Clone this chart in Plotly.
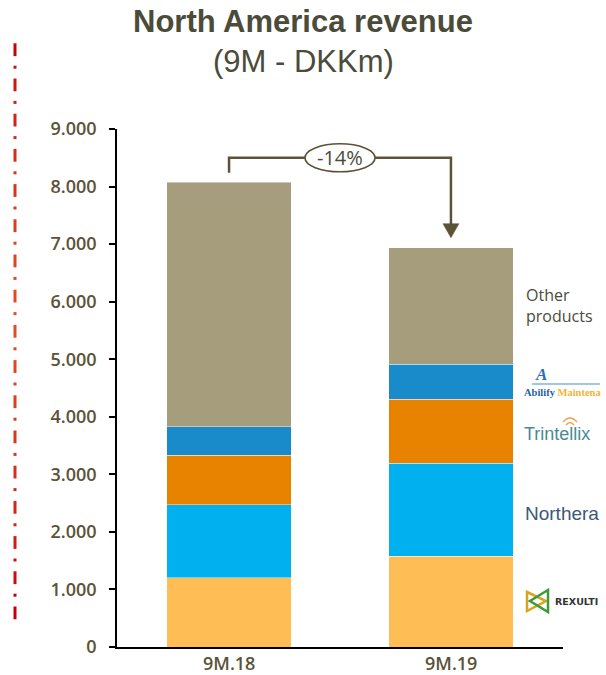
import plotly.graph_objects as go

# ---------------- data ----------------
periods = ["9M.18", "9M.19"]
rexulti = [1200, 1580]
northera = [1270, 1610]
trintellix = [860, 1115]
abilify = [500, 610]
other = [4245, 2025]

series_names = ["Rexulti", "Northera", "Trintellix", "Abilify Maintena", "Other products"]
series_values = [rexulti, northera, trintellix, abilify, other]
series_colors = ["#ffbe55", "#00b0ef", "#e88300", "#198bcb", "#a59d7c"]

y_ticks = list(range(0, 9001, 1000))

# ---------------- figure ----------------
W, H = 606, 675
ML, MR, MT, MB = 117, 43, 129, 28
PW, PH = W - ML - MR, H - MT - MB

def px_x(px):
    return (px - ML) / PW

def px_y(py):
    return (H - MB - py) / PH

fig = go.Figure()
for name, vals, col in zip(series_names, series_values, series_colors):
    fig.add_trace(go.Bar(
        x=periods, y=vals, name=name, width=0.56,
        marker=dict(color=col, line=dict(color="rgba(255,255,255,0.7)", width=0.6)),
        hoverinfo="x+y+name",
    ))

totals = [sum(v[i] for v in series_values) for i in range(len(periods))]
change = round((totals[1] / totals[0] - 1) * 100)

dark = "#5b5237"
txt = "#4b4b39"
shapes = []
annotations = []

# bracket with arrow
leg_gap = 165
y_br = max(totals) + 425
shapes.append(dict(type="path", xref="x", yref="y",
                   path=f"M 0,{totals[0] + leg_gap} L 0,{y_br} L 1,{y_br} L 1,{totals[1] + 410}",
                   line=dict(color=dark, width=2.5), layer="above"))
ah_w, ah_h = 0.036, 245
tip = totals[1] + 170
shapes.append(dict(type="path", xref="x", yref="y",
                   path=f"M {1 - ah_w},{tip + ah_h} L {1 + ah_w},{tip + ah_h} L 1,{tip} Z",
                   fillcolor=dark, line=dict(color=dark, width=0.5), layer="above"))
shapes.append(dict(type="circle", xref="x", yref="y",
                   x0=0.5 - 0.158, x1=0.5 + 0.158, y0=y_br - 243, y1=y_br + 243,
                   fillcolor="white", line=dict(color=dark, width=1.6), layer="above"))
annotations.append(dict(x=0.5, y=y_br, xref="x", yref="y", text=f"{change}%",
                        showarrow=False, font=dict(family="Open Sans", size=20, color=txt)))

# category labels under the bars
for p in periods:
    annotations.append(dict(x=p, y=px_y(663), xref="x", yref="paper", text=p, showarrow=False,
                            yanchor="middle",
                            font=dict(family="Open Sans", size=18, color=dark, weight=600)))

# right-hand labels at segment centres of the last bar
cum = 0
mids = []
for vals in series_values:
    mids.append(cum + vals[1] / 2)
    cum += vals[1]
lab_x = 1.33
annotations.append(dict(x=lab_x, y=mids[4], xref="x", yref="y", xanchor="left", yanchor="middle",
                        text="Other<br>products", align="left", showarrow=False,
                        font=dict(family="Open Sans", size=16, color=txt)))
annotations.append(dict(x=lab_x - 0.01, y=mids[3] - 190, xref="x", yref="y", xanchor="left", yanchor="middle",
                        text="<b><span style='color:#2a5fa8'>Abilify</span> <span style='color:#f2b43a'>Maintena</span></b>",
                        showarrow=False, font=dict(family="Liberation Serif", size=10.5)))
annotations.append(dict(x=lab_x + 0.04, y=mids[3] + 130, xref="x", yref="y", xanchor="left", yanchor="middle",
                        text="<b><i>A</i></b>", showarrow=False,
                        font=dict(family="Liberation Serif", size=17, color="#2a6cb8")))
annotations.append(dict(x=lab_x - 0.01, y=mids[2] - 40, xref="x", yref="y", xanchor="left", yanchor="middle",
                        text="Trintellix", showarrow=False,
                        font=dict(family="Liberation Sans", size=18, color="#4a8a95")))
annotations.append(dict(x=lab_x - 0.005, y=mids[1] - 60, xref="x", yref="y", xanchor="left", yanchor="middle",
                        text="Northera", showarrow=False,
                        font=dict(family="Liberation Sans", size=19, color="#3b5878")))
annotations.append(dict(x=lab_x + 0.13, y=mids[0], xref="x", yref="y", xanchor="left", yanchor="middle",
                        text="<b>REXULTI</b>", showarrow=False,
                        font=dict(family="DejaVu Sans", size=9.5, color="#333333")))

# small logo decorations
shapes.append(dict(type="line", xref="paper", yref="paper", x0=px_x(532), x1=px_x(600),
                   y0=px_y(384), y1=px_y(384), line=dict(color="#7fb4e0", width=1.5)))
shapes.append(dict(type="path", xref="paper", yref="paper",
                   path=f"M {px_x(527)},{px_y(592)} L {px_x(546)},{px_y(601)} L {px_x(527)},{px_y(611)} Z",
                   line=dict(color="#d9a520", width=2.5)))
shapes.append(dict(type="path", xref="paper", yref="paper",
                   path=f"M {px_x(548)},{px_y(590)} L {px_x(530)},{px_y(601)} L {px_x(548)},{px_y(612)} Z",
                   line=dict(color="#3f9a3a", width=2.5)))
shapes.append(dict(type="path", xref="paper", yref="paper",
                   path=f"M {px_x(566)},{px_y(425)} Q {px_x(570)},{px_y(420)} {px_x(574)},{px_y(425)}",
                   line=dict(color="#f0a050", width=1.5)))
shapes.append(dict(type="path", xref="paper", yref="paper",
                   path=f"M {px_x(563)},{px_y(422)} Q {px_x(570)},{px_y(414)} {px_x(577)},{px_y(422)}",
                   line=dict(color="#f0a050", width=1.5)))

# red dash-dot vertical decoration (drawn piecewise to get the colour gradient)
def red_at(py):
    t = (py - 43) / (620 - 43)
    w = max(0.0, 1 - abs(t - 0.47) / 0.47) ** 0.6
    r0, g0, b0 = 0xc4, 0x00, 0x0c
    r1, g1, b1 = 0xe2, 0x4e, 0x26
    r = round(r0 + (r1 - r0) * w); g = round(g0 + (g1 - g0) * w); b = round(b0 + (b1 - b0) * w)
    return f"rgb({r},{g},{b})"

start, period = 43.3, 35.2
for k in range(17):
    d0 = start + k * period
    shapes.append(dict(type="line", xref="paper", yref="paper", x0=px_x(15), x1=px_x(15),
                       y0=px_y(d0), y1=px_y(d0 + 12.8), line=dict(color=red_at(d0), width=3)))
    if k < 16:
        p0 = d0 + 22.4
        shapes.append(dict(type="line", xref="paper", yref="paper", x0=px_x(15), x1=px_x(15),
                           y0=px_y(p0), y1=px_y(p0 + 3), line=dict(color=red_at(p0), width=3)))

# titles
annotations.append(dict(x=px_x(303), y=px_y(21.5), xref="paper", yref="paper", showarrow=False,
                        text="<b>North America revenue</b>", yanchor="middle",
                        font=dict(family="Liberation Sans", size=31, color=txt)))
annotations.append(dict(x=px_x(303), y=px_y(61), xref="paper", yref="paper", showarrow=False,
                        text="(9M - DKKm)", yanchor="middle",
                        font=dict(family="Liberation Sans", size=31, color=txt)))

fig.update_layout(
    width=W, height=H,
    margin=dict(l=ML, r=MR, t=MT, b=MB, autoexpand=False),
    barmode="stack", bargap=0.44,
    plot_bgcolor="white", paper_bgcolor="white",
    showlegend=False,
    separators=",.",
    shapes=shapes, annotations=annotations,
    xaxis=dict(range=[-0.505, 1.505], showline=True, linecolor="black", linewidth=2,
               showgrid=False, ticks="", zeroline=False, showticklabels=False),
    yaxis=dict(range=[0, 9000], tickvals=y_ticks, tickformat=",d", showline=True,
               linecolor="black", linewidth=1.5, ticks="outside", ticklen=6, tickwidth=1.5,
               tickcolor="black", showgrid=False, zeroline=False, ticklabelstandoff=9,
               tickfont=dict(family="Open Sans", size=18, color=dark, weight=600)),
)

fig.write_html("out.html", config={"displayModeBar": False},
               post_script="document.body.style.margin='0';document.body.style.overflow='hidden';")
